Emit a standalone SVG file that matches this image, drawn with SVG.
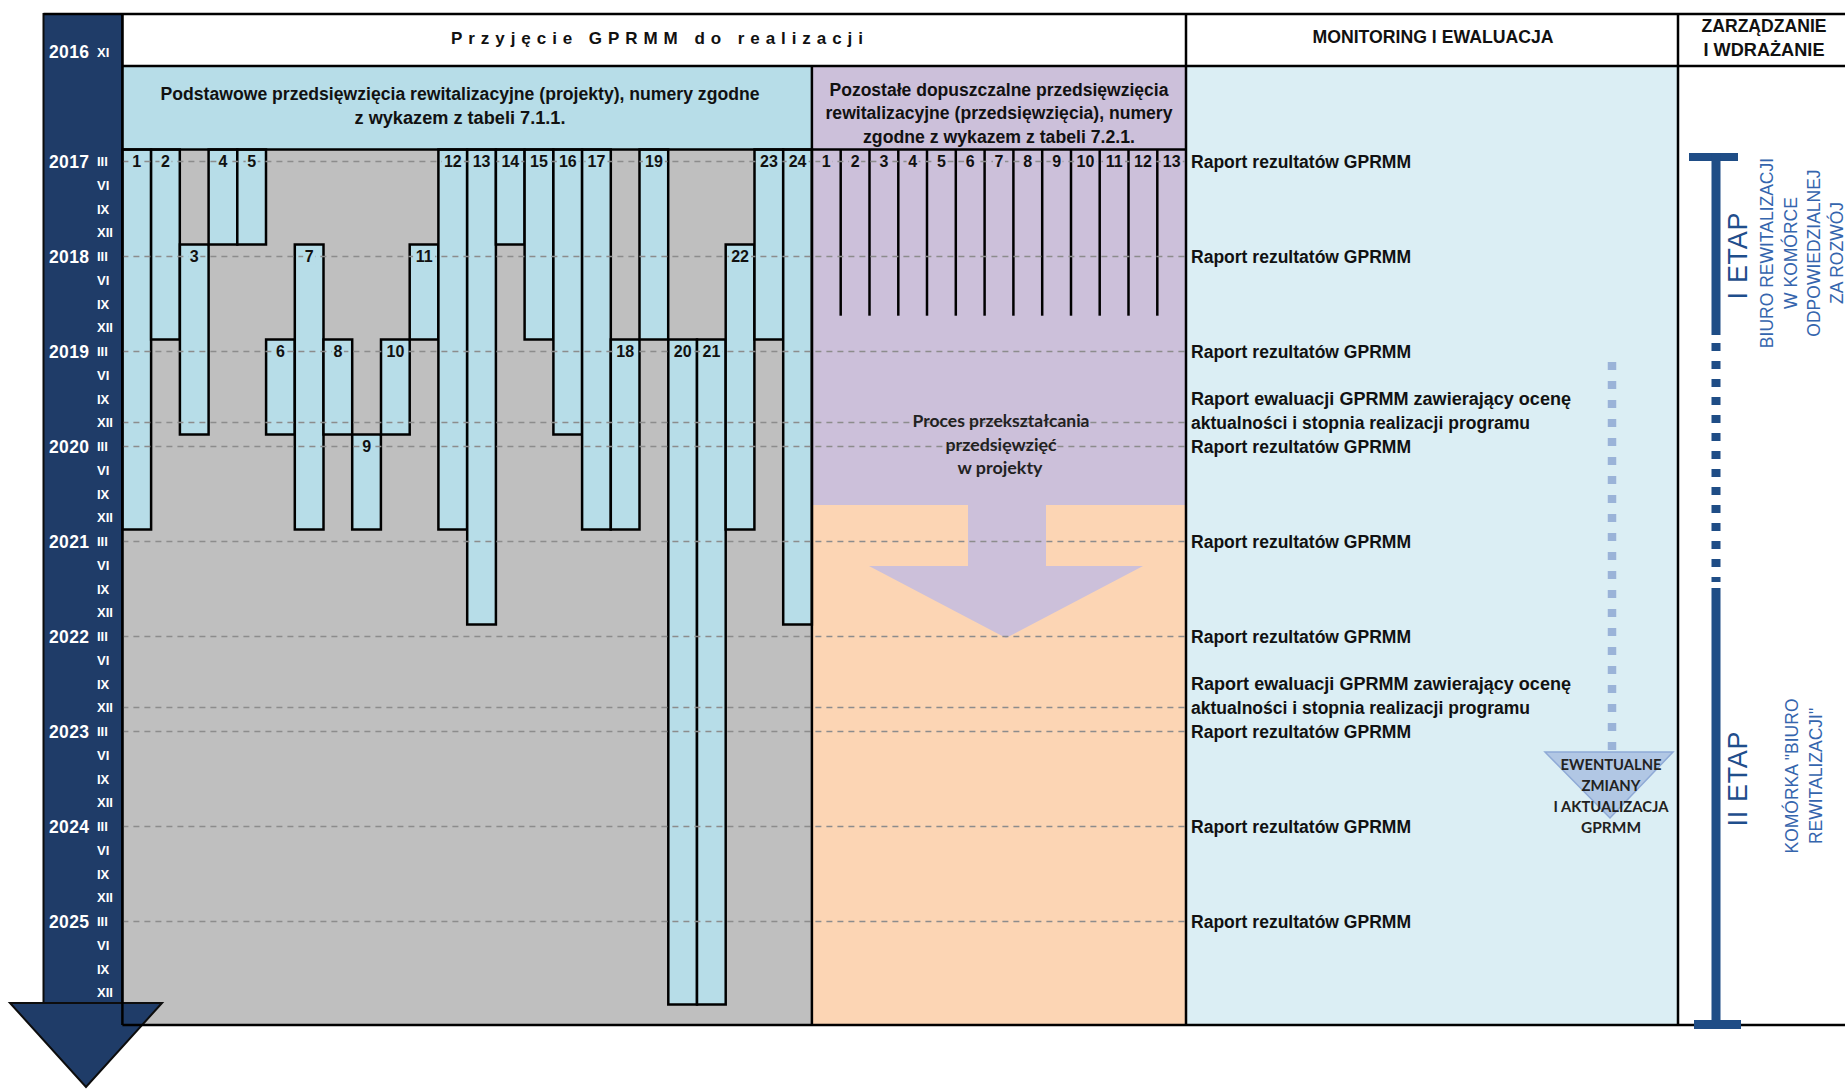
<svg xmlns="http://www.w3.org/2000/svg" width="1845" height="1089" viewBox="0 0 1845 1089">
<style>
.bar{fill:#b7dde8;stroke:#000;stroke-width:2.5}
.lbl{font-family:"Liberation Sans",Arial,sans-serif;font-weight:bold;font-size:16px;fill:#111;text-anchor:middle}
.lbg{fill:#b7dde8}
.pbg{fill:#ccc0da}
.yr{font-family:"Liberation Sans",Arial,sans-serif;font-weight:bold;font-size:17.5px;fill:#fff}
.rm{font-family:"Liberation Sans",Arial,sans-serif;font-weight:bold;font-size:13px;fill:#fff}
.hd{font-family:"Liberation Sans",Arial,sans-serif;font-weight:bold;fill:#111}
.rep{font-family:"Liberation Sans",Arial,sans-serif;font-weight:bold;font-size:18px;fill:#111}
.dash{stroke:#8c8c8c;stroke-width:1.5;stroke-dasharray:6 5;fill:none}
.vl{stroke:#000;stroke-width:2.5}
.cal{font-family:Lato,"Open Sans",sans-serif;font-weight:bold;fill:#222;text-anchor:middle}
.etap{font-family:"Liberation Sans",Arial,sans-serif;fill:#1f4e8c;text-anchor:middle}
.biuro{font-family:"Liberation Sans",Arial,sans-serif;font-size:17.5px;fill:#3565ad;text-anchor:middle}
</style>

<g id="backgrounds">
<rect x="122.4" y="14" width="1722.6" height="52" fill="#fff"/>
<rect x="122.4" y="66" width="689.5" height="83.5" fill="#b7dde8"/>
<rect x="811.9" y="66" width="374.1" height="83.5" fill="#ccc0da"/>
<rect x="122.4" y="149.5" width="689.5" height="875.5" fill="#bfbfbf"/>
<rect x="811.9" y="149.5" width="374.1" height="355.5" fill="#ccc0da"/>
<rect x="811.9" y="505" width="374.1" height="520" fill="#fcd5b4"/>
<rect x="1186" y="66" width="492" height="959" fill="#dbeef4"/>
<rect x="1678" y="66" width="167" height="959" fill="#fff"/>
</g>

<g id="timeline">
<rect x="43.5" y="14" width="78.9" height="989" fill="#1f3c68" stroke="#0d0d0d" stroke-width="2"/>
<polygon points="10,1003 162,1003 86,1087" fill="#1f3c68" stroke="#0d0d0d" stroke-width="2"/>
<text class="yr" x="49" y="58" textLength="40">2016</text><text class="rm" x="97" y="56.6">XI</text>
<text class="yr" x="49" y="167.6" textLength="40">2017</text>
<text class="yr" x="49" y="262.6" textLength="40">2018</text>
<text class="yr" x="49" y="357.6" textLength="40">2019</text>
<text class="yr" x="49" y="452.6" textLength="40">2020</text>
<text class="yr" x="49" y="547.6" textLength="40">2021</text>
<text class="yr" x="49" y="642.6" textLength="40">2022</text>
<text class="yr" x="49" y="737.6" textLength="40">2023</text>
<text class="yr" x="49" y="832.6" textLength="40">2024</text>
<text class="yr" x="49" y="927.6" textLength="40">2025</text>
<text class="rm" x="97" y="166.0">III</text><text class="rm" x="97" y="189.7">VI</text><text class="rm" x="97" y="213.5">IX</text><text class="rm" x="97" y="237.2">XII</text>
<text class="rm" x="97" y="261.0">III</text><text class="rm" x="97" y="284.7">VI</text><text class="rm" x="97" y="308.5">IX</text><text class="rm" x="97" y="332.2">XII</text>
<text class="rm" x="97" y="356.0">III</text><text class="rm" x="97" y="379.7">VI</text><text class="rm" x="97" y="403.5">IX</text><text class="rm" x="97" y="427.2">XII</text>
<text class="rm" x="97" y="451.0">III</text><text class="rm" x="97" y="474.7">VI</text><text class="rm" x="97" y="498.5">IX</text><text class="rm" x="97" y="522.2">XII</text>
<text class="rm" x="97" y="546.0">III</text><text class="rm" x="97" y="569.7">VI</text><text class="rm" x="97" y="593.5">IX</text><text class="rm" x="97" y="617.2">XII</text>
<text class="rm" x="97" y="641.0">III</text><text class="rm" x="97" y="664.7">VI</text><text class="rm" x="97" y="688.5">IX</text><text class="rm" x="97" y="712.2">XII</text>
<text class="rm" x="97" y="736.0">III</text><text class="rm" x="97" y="759.7">VI</text><text class="rm" x="97" y="783.5">IX</text><text class="rm" x="97" y="807.2">XII</text>
<text class="rm" x="97" y="831.0">III</text><text class="rm" x="97" y="854.7">VI</text><text class="rm" x="97" y="878.5">IX</text><text class="rm" x="97" y="902.2">XII</text>
<text class="rm" x="97" y="926.0">III</text><text class="rm" x="97" y="949.7">VI</text><text class="rm" x="97" y="973.5">IX</text><text class="rm" x="97" y="997.2">XII</text>
</g>

<g id="headers">
<text class="hd" x="657" y="43.5" font-size="17" text-anchor="middle" textLength="412" lengthAdjust="spacing">Przyjęcie GPRMM do realizacji</text>
<text class="hd" x="1433" y="43" font-size="18" text-anchor="middle" textLength="241" lengthAdjust="spacingAndGlyphs">MONITORING I EWALUACJA</text>
<text class="hd" x="1764" y="32" font-size="18" text-anchor="middle" textLength="125" lengthAdjust="spacingAndGlyphs">ZARZĄDZANIE</text>
<text class="hd" x="1764" y="56" font-size="18" text-anchor="middle" textLength="121" lengthAdjust="spacingAndGlyphs">I WDRAŻANIE</text>
<text class="hd" x="460" y="100" font-size="18" text-anchor="middle" textLength="599" lengthAdjust="spacingAndGlyphs">Podstawowe przedsięwzięcia rewitalizacyjne (projekty), numery zgodne</text>
<text class="hd" x="460" y="124" font-size="18" text-anchor="middle" textLength="211" lengthAdjust="spacingAndGlyphs">z wykazem z tabeli 7.1.1.</text>
<text class="hd" x="999" y="95.5" font-size="17.5" text-anchor="middle" textLength="339" lengthAdjust="spacingAndGlyphs">Pozostałe dopuszczalne przedsięwzięcia</text>
<text class="hd" x="999" y="119" font-size="17.5" text-anchor="middle" textLength="347" lengthAdjust="spacingAndGlyphs">rewitalizacyjne (przedsięwzięcia), numery</text>
<text class="hd" x="999" y="142.5" font-size="17.5" text-anchor="middle" textLength="272" lengthAdjust="spacingAndGlyphs">zgodne z wykazem z tabeli 7.2.1.</text>
</g>

<g id="process-arrow">
<polygon points="968,505 1046,505 1046,566 1143,566 1006,638 869,566 968,566" fill="#ccc0da"/>
</g>

<g id="projects">
<rect class="bar" x="122.4" y="149.5" width="28.7" height="380"/>
<rect class="bar" x="151.1" y="149.5" width="28.7" height="190"/>
<rect class="bar" x="179.9" y="244.5" width="28.7" height="190"/>
<rect class="bar" x="208.6" y="149.5" width="28.7" height="95"/>
<rect class="bar" x="237.3" y="149.5" width="28.7" height="95"/>
<rect class="bar" x="266.1" y="339.5" width="28.7" height="95"/>
<rect class="bar" x="294.8" y="244.5" width="28.7" height="285"/>
<rect class="bar" x="323.5" y="339.5" width="28.7" height="95"/>
<rect class="bar" x="352.2" y="434.5" width="28.7" height="95"/>
<rect class="bar" x="381.0" y="339.5" width="28.7" height="95"/>
<rect class="bar" x="409.7" y="244.5" width="28.7" height="95"/>
<rect class="bar" x="438.4" y="149.5" width="28.7" height="380"/>
<rect class="bar" x="467.2" y="149.5" width="28.7" height="475"/>
<rect class="bar" x="495.9" y="149.5" width="28.7" height="95"/>
<rect class="bar" x="524.6" y="149.5" width="28.7" height="190"/>
<rect class="bar" x="553.4" y="149.5" width="28.7" height="285"/>
<rect class="bar" x="582.1" y="149.5" width="28.7" height="380"/>
<rect class="bar" x="610.8" y="339.5" width="28.7" height="190"/>
<rect class="bar" x="639.5" y="149.5" width="28.7" height="190"/>
<rect class="bar" x="668.3" y="339.5" width="28.7" height="665"/>
<rect class="bar" x="697.0" y="339.5" width="28.7" height="665"/>
<rect class="bar" x="725.7" y="244.5" width="28.7" height="285"/>
<rect class="bar" x="754.5" y="149.5" width="28.7" height="190"/>
<rect class="bar" x="783.2" y="149.5" width="28.7" height="475"/>
</g>

<g id="przedsiewziecia-lines" stroke="#000" stroke-width="2.5">
<line x1="840.7" y1="149.5" x2="840.7" y2="315.7"/>
<line x1="869.5" y1="149.5" x2="869.5" y2="315.7"/>
<line x1="898.3" y1="149.5" x2="898.3" y2="315.7"/>
<line x1="927.0" y1="149.5" x2="927.0" y2="315.7"/>
<line x1="955.8" y1="149.5" x2="955.8" y2="315.7"/>
<line x1="984.6" y1="149.5" x2="984.6" y2="315.7"/>
<line x1="1013.4" y1="149.5" x2="1013.4" y2="315.7"/>
<line x1="1042.2" y1="149.5" x2="1042.2" y2="315.7"/>
<line x1="1071.0" y1="149.5" x2="1071.0" y2="315.7"/>
<line x1="1099.7" y1="149.5" x2="1099.7" y2="315.7"/>
<line x1="1128.5" y1="149.5" x2="1128.5" y2="315.7"/>
<line x1="1157.3" y1="149.5" x2="1157.3" y2="315.7"/>
</g>

<g id="connectors">
<line class="dash" x1="122.4" y1="161.4" x2="1186" y2="161.4"/>
<line class="dash" x1="122.4" y1="256.4" x2="1186" y2="256.4"/>
<line class="dash" x1="122.4" y1="351.4" x2="1186" y2="351.4"/>
<line class="dash" x1="122.4" y1="422.6" x2="1186" y2="422.6"/>
<line class="dash" x1="122.4" y1="446.4" x2="1186" y2="446.4"/>
<line class="dash" x1="122.4" y1="541.4" x2="1186" y2="541.4"/>
<line class="dash" x1="122.4" y1="636.4" x2="1186" y2="636.4"/>
<line class="dash" x1="122.4" y1="707.6" x2="1186" y2="707.6"/>
<line class="dash" x1="122.4" y1="731.4" x2="1186" y2="731.4"/>
<line class="dash" x1="122.4" y1="826.4" x2="1186" y2="826.4"/>
<line class="dash" x1="122.4" y1="921.4" x2="1186" y2="921.4"/>
<line x1="1612" y1="362" x2="1612" y2="750" stroke="#9ab3d8" stroke-width="8.5" stroke-dasharray="8 11"/>
</g>

<g id="project-labels">
<rect class="lbg" x="130.8" y="153.4" width="12" height="16"/><text class="lbl" x="136.8" y="167.1">1</text>
<rect class="lbg" x="159.5" y="153.4" width="12" height="16"/><text class="lbl" x="165.5" y="167.1">2</text>
<rect class="lbg" x="188.3" y="248.4" width="12" height="16"/><text class="lbl" x="194.3" y="262.1">3</text>
<rect class="lbg" x="217.0" y="153.4" width="12" height="16"/><text class="lbl" x="223.0" y="167.1">4</text>
<rect class="lbg" x="245.7" y="153.4" width="12" height="16"/><text class="lbl" x="251.7" y="167.1">5</text>
<rect class="lbg" x="274.5" y="343.4" width="12" height="16"/><text class="lbl" x="280.5" y="357.1">6</text>
<rect class="lbg" x="303.2" y="248.4" width="12" height="16"/><text class="lbl" x="309.2" y="262.1">7</text>
<rect class="lbg" x="331.9" y="343.4" width="12" height="16"/><text class="lbl" x="337.9" y="357.1">8</text>
<rect class="lbg" x="360.6" y="438.4" width="12" height="16"/><text class="lbl" x="366.6" y="452.1">9</text>
<rect class="lbg" x="384.4" y="343.4" width="22" height="16"/><text class="lbl" x="395.4" y="357.1">10</text>
<rect class="lbg" x="413.1" y="248.4" width="22" height="16"/><text class="lbl" x="424.1" y="262.1">11</text>
<rect class="lbg" x="441.8" y="153.4" width="22" height="16"/><text class="lbl" x="452.8" y="167.1">12</text>
<rect class="lbg" x="470.6" y="153.4" width="22" height="16"/><text class="lbl" x="481.6" y="167.1">13</text>
<rect class="lbg" x="499.3" y="153.4" width="22" height="16"/><text class="lbl" x="510.3" y="167.1">14</text>
<rect class="lbg" x="528.0" y="153.4" width="22" height="16"/><text class="lbl" x="539.0" y="167.1">15</text>
<rect class="lbg" x="556.8" y="153.4" width="22" height="16"/><text class="lbl" x="567.8" y="167.1">16</text>
<rect class="lbg" x="585.5" y="153.4" width="22" height="16"/><text class="lbl" x="596.5" y="167.1">17</text>
<rect class="lbg" x="614.2" y="343.4" width="22" height="16"/><text class="lbl" x="625.2" y="357.1">18</text>
<rect class="lbg" x="642.9" y="153.4" width="22" height="16"/><text class="lbl" x="653.9" y="167.1">19</text>
<rect class="lbg" x="671.7" y="343.4" width="22" height="16"/><text class="lbl" x="682.7" y="357.1">20</text>
<rect class="lbg" x="700.4" y="343.4" width="22" height="16"/><text class="lbl" x="711.4" y="357.1">21</text>
<rect class="lbg" x="729.1" y="248.4" width="22" height="16"/><text class="lbl" x="740.1" y="262.1">22</text>
<rect class="lbg" x="757.9" y="153.4" width="22" height="16"/><text class="lbl" x="768.9" y="167.1">23</text>
<rect class="lbg" x="786.6" y="153.4" width="22" height="16"/><text class="lbl" x="797.6" y="167.1">24</text>
</g>

<g id="przedsiewziecia-labels">
<rect class="pbg" x="820.3" y="153.4" width="12" height="16"/><text class="lbl" x="826.3" y="167.1">1</text>
<rect class="pbg" x="849.1" y="153.4" width="12" height="16"/><text class="lbl" x="855.1" y="167.1">2</text>
<rect class="pbg" x="877.9" y="153.4" width="12" height="16"/><text class="lbl" x="883.9" y="167.1">3</text>
<rect class="pbg" x="906.6" y="153.4" width="12" height="16"/><text class="lbl" x="912.6" y="167.1">4</text>
<rect class="pbg" x="935.4" y="153.4" width="12" height="16"/><text class="lbl" x="941.4" y="167.1">5</text>
<rect class="pbg" x="964.2" y="153.4" width="12" height="16"/><text class="lbl" x="970.2" y="167.1">6</text>
<rect class="pbg" x="993.0" y="153.4" width="12" height="16"/><text class="lbl" x="999.0" y="167.1">7</text>
<rect class="pbg" x="1021.8" y="153.4" width="12" height="16"/><text class="lbl" x="1027.8" y="167.1">8</text>
<rect class="pbg" x="1050.6" y="153.4" width="12" height="16"/><text class="lbl" x="1056.6" y="167.1">9</text>
<rect class="pbg" x="1074.4" y="153.4" width="22" height="16"/><text class="lbl" x="1085.4" y="167.1">10</text>
<rect class="pbg" x="1103.1" y="153.4" width="22" height="16"/><text class="lbl" x="1114.1" y="167.1">11</text>
<rect class="pbg" x="1131.9" y="153.4" width="22" height="16"/><text class="lbl" x="1142.9" y="167.1">12</text>
<rect class="pbg" x="1160.7" y="153.4" width="22" height="16"/><text class="lbl" x="1171.7" y="167.1">13</text>
</g>

<g id="process-text">
<text class="cal" x="1001" y="427" font-size="17" textLength="177" lengthAdjust="spacingAndGlyphs">Proces przekształcania</text>
<text class="cal" x="1001" y="451" font-size="17" textLength="111" lengthAdjust="spacingAndGlyphs">przedsięwzięć</text>
<text class="cal" x="1000" y="474" font-size="17" textLength="85" lengthAdjust="spacingAndGlyphs">w projekty</text>
</g>

<g id="monitoring">
<text class="rep" x="1191" y="167.9" textLength="220" lengthAdjust="spacingAndGlyphs">Raport rezultatów GPRMM</text>
<text class="rep" x="1191" y="262.9" textLength="220" lengthAdjust="spacingAndGlyphs">Raport rezultatów GPRMM</text>
<text class="rep" x="1191" y="357.9" textLength="220" lengthAdjust="spacingAndGlyphs">Raport rezultatów GPRMM</text>
<text class="rep" x="1191" y="405.4" textLength="380" lengthAdjust="spacingAndGlyphs">Raport ewaluacji GPRMM zawierający ocenę</text>
<text class="rep" x="1191" y="429.1" textLength="339" lengthAdjust="spacingAndGlyphs">aktualności i stopnia realizacji programu</text>
<text class="rep" x="1191" y="452.9" textLength="220" lengthAdjust="spacingAndGlyphs">Raport rezultatów GPRMM</text>
<text class="rep" x="1191" y="547.9" textLength="220" lengthAdjust="spacingAndGlyphs">Raport rezultatów GPRMM</text>
<text class="rep" x="1191" y="642.9" textLength="220" lengthAdjust="spacingAndGlyphs">Raport rezultatów GPRMM</text>
<text class="rep" x="1191" y="690.4" textLength="380" lengthAdjust="spacingAndGlyphs">Raport ewaluacji GPRMM zawierający ocenę</text>
<text class="rep" x="1191" y="714.1" textLength="339" lengthAdjust="spacingAndGlyphs">aktualności i stopnia realizacji programu</text>
<text class="rep" x="1191" y="737.9" textLength="220" lengthAdjust="spacingAndGlyphs">Raport rezultatów GPRMM</text>
<text class="rep" x="1191" y="832.9" textLength="220" lengthAdjust="spacingAndGlyphs">Raport rezultatów GPRMM</text>
<text class="rep" x="1191" y="927.9" textLength="220" lengthAdjust="spacingAndGlyphs">Raport rezultatów GPRMM</text>
</g>

<g id="zmiany">
<polygon points="1545,752 1673,752 1610,818" fill="#a9bfe0" fill-opacity="0.85" stroke="#8faad6" stroke-width="1.5"/>
<text class="cal" x="1611" y="770" font-size="15.5" fill="#1c2a44" textLength="101" lengthAdjust="spacingAndGlyphs">EWENTUALNE</text>
<text class="cal" x="1611" y="791" font-size="15.5" fill="#1c2a44" textLength="59" lengthAdjust="spacingAndGlyphs">ZMIANY</text>
<text class="cal" x="1611" y="812" font-size="15.5" fill="#1c2a44" textLength="115" lengthAdjust="spacingAndGlyphs">I AKTUALIZACJA</text>
<text class="cal" x="1611" y="833" font-size="15.5" fill="#1c2a44" textLength="60" lengthAdjust="spacingAndGlyphs">GPRMM</text>
</g>

<g id="frame">
<line class="vl" x1="43.5" y1="14" x2="1845" y2="14"/>
<line class="vl" x1="122.4" y1="66" x2="1845" y2="66"/>
<line class="vl" x1="122.4" y1="149.5" x2="1186" y2="149.5"/>
<line class="vl" x1="122.4" y1="1025" x2="1845" y2="1025"/>
<line class="vl" x1="122.4" y1="14" x2="122.4" y2="1025"/>
<line class="vl" x1="811.9" y1="66" x2="811.9" y2="1025"/>
<line class="vl" x1="1186" y1="14" x2="1186" y2="1025"/>
<line class="vl" x1="1678" y1="14" x2="1678" y2="1025"/>
</g>

<g id="zarzadzanie">
<rect x="1689" y="153" width="49" height="8" fill="#1f4d86"/>
<rect x="1711.5" y="153" width="9" height="182" fill="#1f4d86"/>
<line x1="1716" y1="343" x2="1716" y2="582" stroke="#1f4d86" stroke-width="9" stroke-dasharray="8 10"/>
<rect x="1711.5" y="588" width="9" height="436" fill="#1f4d86"/>
<rect x="1694" y="1020" width="47" height="9" fill="#1f4d86"/>
<text class="etap" font-size="27" transform="translate(1737,256) rotate(-90)" x="0" y="9.7" textLength="87">I ETAP</text>
<g transform="translate(1767,253) rotate(-90)"><text class="biuro" x="0" y="6.2">BIURO REWITALIZACJI</text></g>
<g transform="translate(1791,253) rotate(-90)"><text class="biuro" x="0" y="6.2">W KOMÓRCE</text></g>
<g transform="translate(1814,253) rotate(-90)"><text class="biuro" x="0" y="6.2">ODPOWIEDZIALNEJ</text></g>
<g transform="translate(1837,253) rotate(-90)"><text class="biuro" x="0" y="6.2">ZA ROZWÓJ</text></g>
<text class="etap" font-size="27" transform="translate(1737,779) rotate(-90)" x="0" y="9.7" textLength="95">II ETAP</text>
<g transform="translate(1791.5,776) rotate(-90)"><text class="biuro" x="0" y="6.2">KOMÓRKA "BIURO</text></g>
<g transform="translate(1816,776) rotate(-90)"><text class="biuro" x="0" y="6.2">REWITALIZACJI"</text></g>
</g>
</svg>
